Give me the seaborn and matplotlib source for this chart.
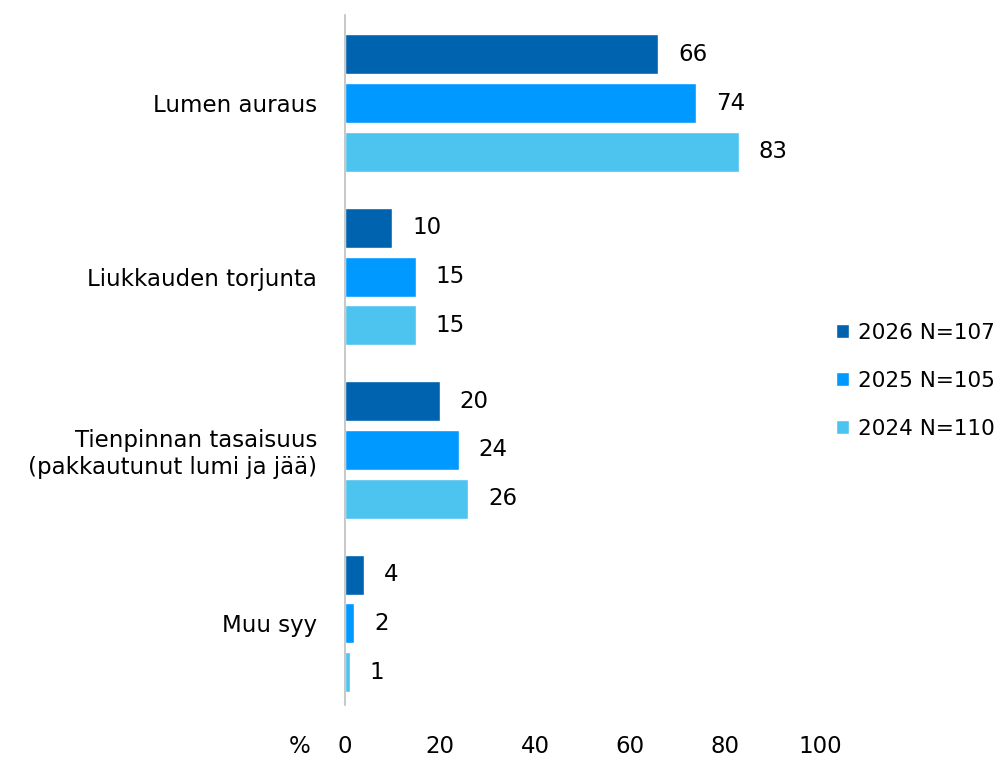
import matplotlib
matplotlib.use("Agg")
import matplotlib.pyplot as plt
import pandas as pd
import seaborn as sns

# data
categories = ["Lumen auraus", "Liukkauden torjunta",
              "Tienpinnan tasaisuus\n(pakkautunut lumi ja jää)", "Muu syy"]
series = ["2026 N=107", "2025 N=105", "2024 N=110"]
values_2026 = [66, 10, 20, 4]
values_2025 = [74, 15, 24, 2]
values_2024 = [83, 15, 26, 1]
colors = ["#0063AF", "#0099FF", "#4DC3F0"]
x_ticks = [0, 20, 40, 60, 80, 100]

df = pd.DataFrame({
    "category": categories * 3,
    "series": [series[0]] * 4 + [series[1]] * 4 + [series[2]] * 4,
    "value": values_2026 + values_2025 + values_2024,
})

sns.set_style("white")
plt.rcParams["font.family"] = ["DejaVu Sans"]
plt.rcParams["font.size"] = 16.5
plt.rcParams["text.color"] = "black"
plt.rcParams["xtick.color"] = "black"
plt.rcParams["ytick.color"] = "black"

fig = plt.figure(figsize=(10.07, 7.58), dpi=100)
ax = fig.add_axes([0.3426, 0.070, 0.8143 - 0.3426, 0.910])

sns.barplot(data=df, y="category", x="value", hue="series", hue_order=series,
            palette=colors, orient="h", width=0.845, gap=0.18,
            saturation=1, ax=ax, legend=True)

for cont in ax.containers:
    ax.bar_label(cont, padding=14, fontsize=16.5, color="black")

ax.set_xlim(0, 100)
ax.set_ylim(3.47, -0.507)
ax.set_xticks(x_ticks)
ax.set_xlabel("")
ax.set_ylabel("")
ax.tick_params(axis="x", length=0, pad=22, labelsize=16.5)
ax.tick_params(axis="y", length=0, pad=20, labelsize=16.5)
for s in ["top", "right", "bottom"]:
    ax.spines[s].set_visible(False)
ax.spines["left"].set_color("#BFBFBF")
ax.spines["left"].set_linewidth(1.2)

fig.canvas.draw()
# place % on same line as the x tick labels
bb = ax.get_xticklabels()[0].get_window_extent()
fig.text(300 / 1007, (bb.y0 + bb.y1) / 2 / 758, "%", fontsize=16.5,
         ha="center", va="center")

leg = ax.legend(loc="center left", bbox_to_anchor=(0.993, 0.47), frameon=False,
                handlelength=0.6, handleheight=0.6, handletextpad=0.4,
                labelspacing=1.3, fontsize=15.5)

fig.savefig("out.png", dpi=100)
